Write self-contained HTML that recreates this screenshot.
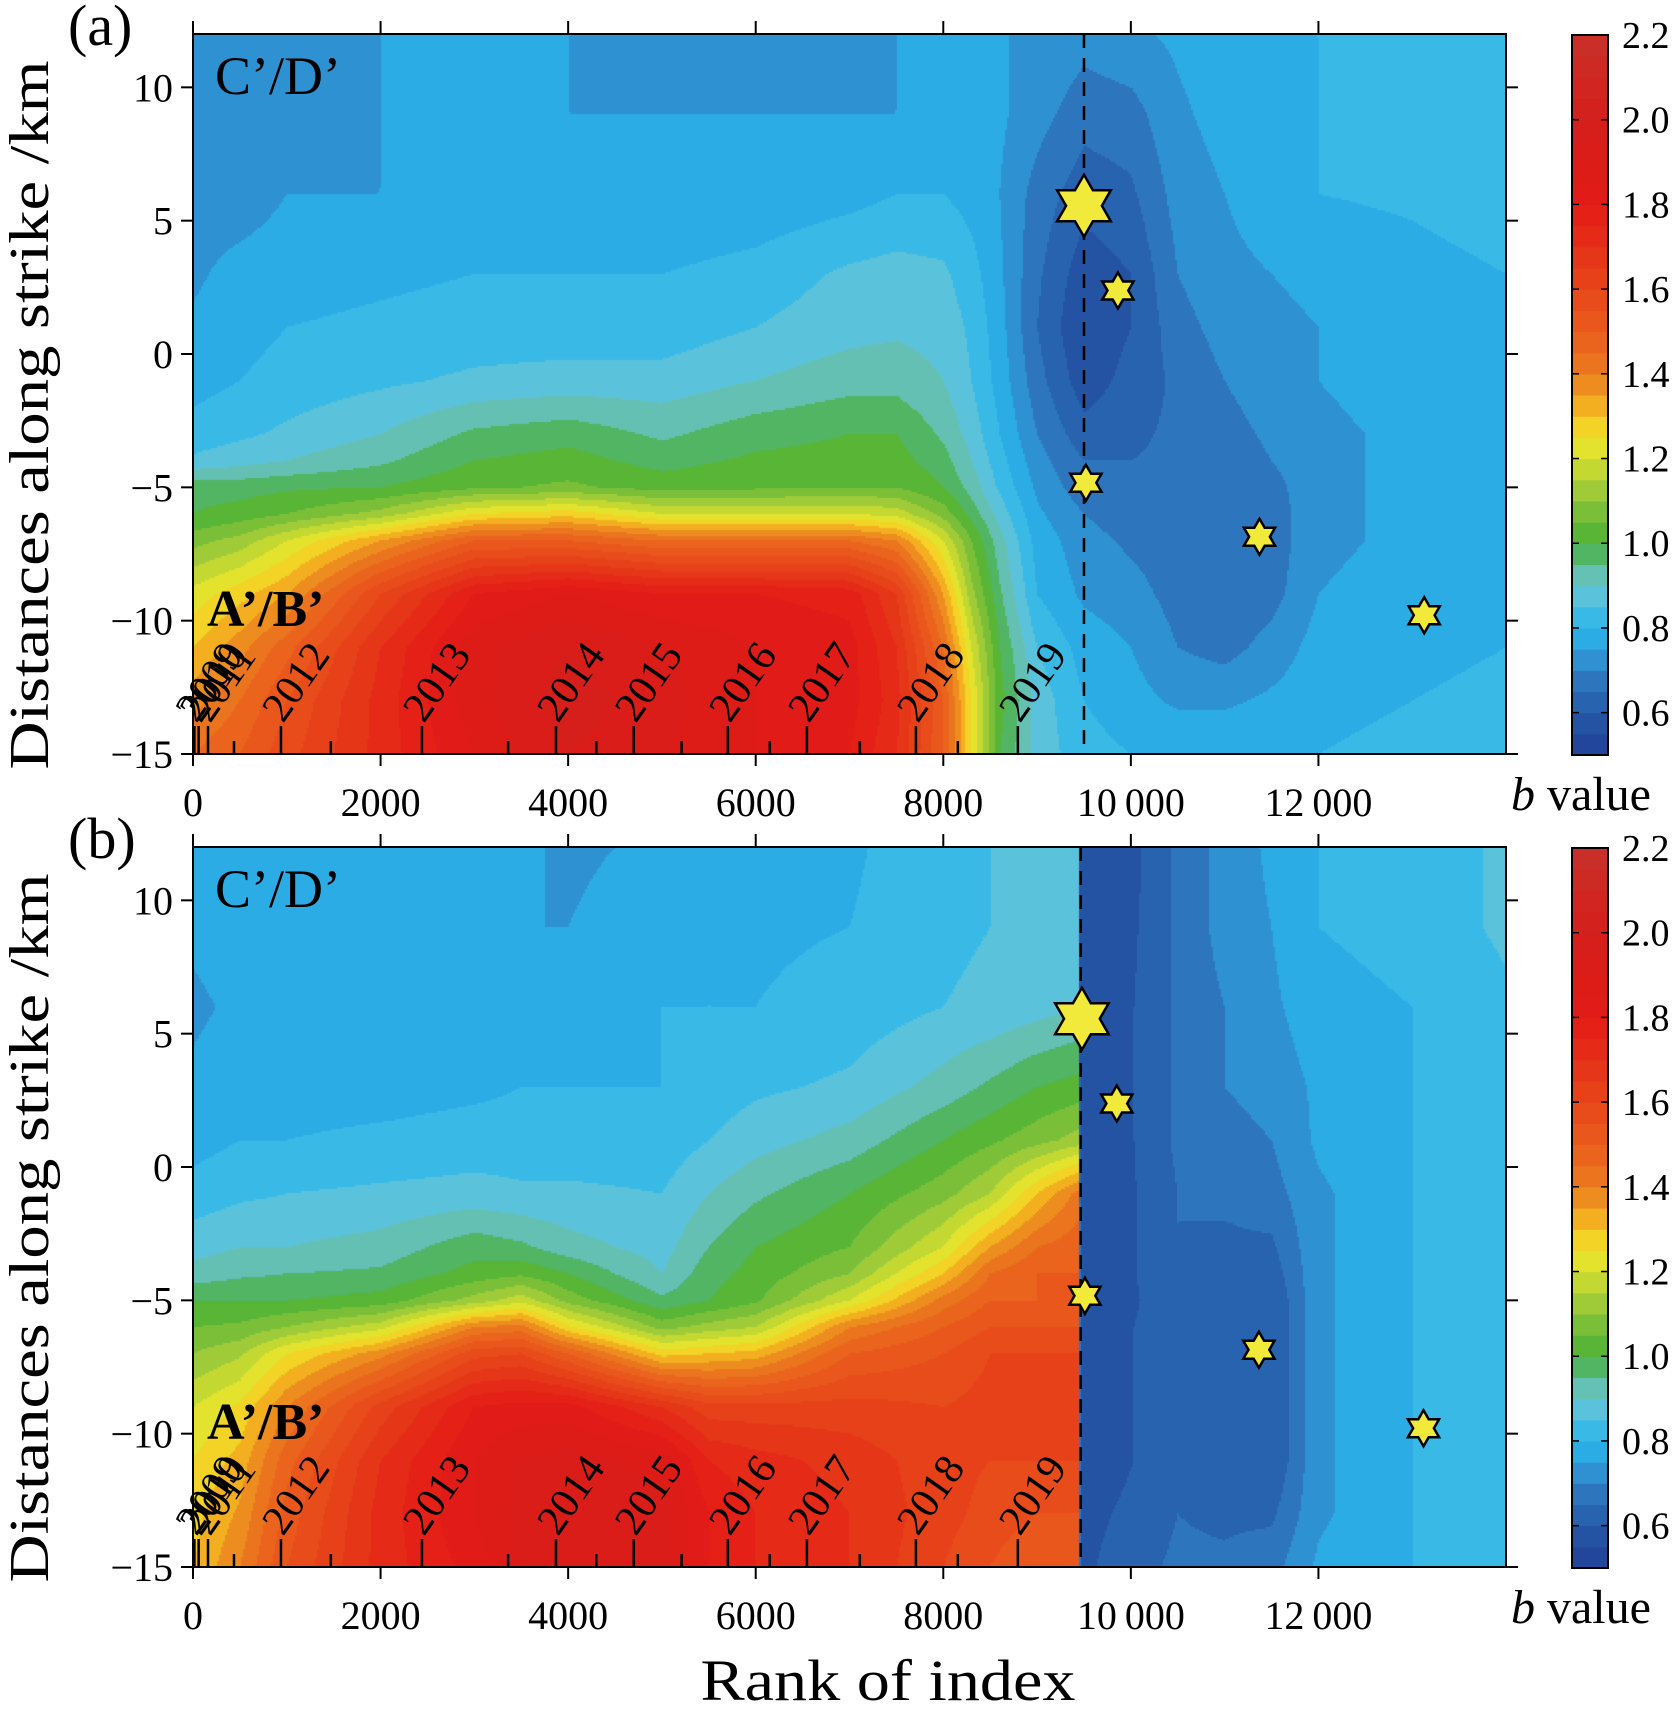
<!DOCTYPE html>
<html><head><meta charset="utf-8">
<style>
html,body{margin:0;padding:0;background:#fff;}
#wrap{position:relative;width:1679px;height:1709px;overflow:hidden;font-family:"Liberation Serif",serif;}
canvas{position:absolute;}
svg{position:absolute;left:0;top:0;}
</style></head>
<body>
<div id="wrap">
<canvas id="ca"></canvas>
<canvas id="cb"></canvas>
<svg id="svg" width="1679" height="1709"></svg>
</div>
<script>
// ---------- data ----------
const rowsKm = [12,9,6,3,1,-1,-3,-4,-5,-6,-7,-9,-11,-13,-15];
const colsA = [0,500,1000,2000,3000,4000,5000,6000,7000,7500,8000,8300,8600,9000,9500,10000,10500,11000,11500,12000,13000,14000];
const gridA = [
[0.72,0.72,0.74,0.75,0.75,0.75,0.74,0.72,0.74,0.75,0.75,0.75,0.75,0.75,0.72,0.74,0.76,0.78,0.8,0.8,0.84,0.84],
[0.70,0.72,0.74,0.75,0.75,0.75,0.75,0.75,0.75,0.75,0.75,0.76,0.76,0.72,0.67,0.68,0.74,0.77,0.79,0.8,0.82,0.84],
[0.72,0.72,0.75,0.75,0.76,0.76,0.75,0.76,0.78,0.8,0.8,0.78,0.75,0.68,0.62,0.64,0.72,0.75,0.77,0.8,0.81,0.83],
[0.74,0.77,0.78,0.79,0.8,0.8,0.8,0.82,0.86,0.87,0.86,0.82,0.76,0.66,0.57,0.6,0.7,0.74,0.75,0.76,0.78,0.8],
[0.76,0.78,0.8,0.81,0.82,0.82,0.82,0.85,0.88,0.89,0.88,0.84,0.77,0.65,0.55,0.6,0.68,0.72,0.74,0.75,0.77,0.8],
[0.78,0.8,0.82,0.84,0.86,0.87,0.87,0.9,0.93,0.93,0.9,0.85,0.78,0.67,0.57,0.62,0.66,0.7,0.73,0.75,0.77,0.79],
[0.82,0.84,0.86,0.9,0.96,0.98,0.94,0.98,1.0,1.0,0.94,0.88,0.8,0.7,0.62,0.64,0.66,0.68,0.71,0.74,0.76,0.78],
[0.86,0.88,0.9,0.94,1.0,1.02,0.98,1.01,1.02,1.02,0.97,0.9,0.82,0.72,0.65,0.65,0.66,0.67,0.7,0.74,0.76,0.78],
[0.98,0.98,0.99,1.0,1.04,1.06,1.03,1.04,1.05,1.05,1.0,0.93,0.84,0.74,0.67,0.66,0.66,0.66,0.68,0.74,0.76,0.78],
[1.0,1.02,1.05,1.12,1.25,1.28,1.2,1.2,1.2,1.18,1.08,0.98,0.88,0.76,0.7,0.67,0.66,0.66,0.67,0.74,0.76,0.78],
[1.08,1.12,1.2,1.35,1.5,1.5,1.45,1.45,1.45,1.4,1.2,1.05,0.92,0.78,0.72,0.69,0.67,0.66,0.67,0.74,0.76,0.78],
[1.22,1.28,1.35,1.6,1.8,1.85,1.8,1.8,1.78,1.65,1.35,1.12,0.96,0.8,0.74,0.72,0.68,0.66,0.68,0.75,0.77,0.78],
[1.3,1.38,1.48,1.7,1.88,1.95,1.9,1.85,1.82,1.7,1.45,1.2,1.0,0.85,0.78,0.75,0.7,0.68,0.72,0.77,0.78,0.8],
[1.38,1.45,1.55,1.72,1.88,1.98,1.92,1.85,1.82,1.72,1.5,1.25,1.02,0.88,0.8,0.77,0.74,0.74,0.76,0.78,0.8,0.82],
[1.45,1.5,1.58,1.72,1.85,1.95,1.9,1.85,1.8,1.7,1.5,1.25,1.0,0.88,0.82,0.8,0.8,0.8,0.8,0.8,0.82,0.84]
];
const colsB = [0,500,1000,2000,3000,3500,4000,5000,5500,6000,7000,8000,8500,9000,9440,9460,9800,10500,11000,11500,12000,13000,13500,14000];
const gridB = [
[0.78,0.78,0.8,0.79,0.77,0.76,0.74,0.76,0.78,0.8,0.79,0.84,0.85,0.86,0.86,0.55,0.55,0.66,0.72,0.76,0.8,0.82,0.84,0.86],
[0.76,0.78,0.8,0.78,0.76,0.75,0.75,0.78,0.8,0.79,0.8,0.84,0.85,0.86,0.86,0.55,0.56,0.66,0.72,0.75,0.8,0.82,0.84,0.86],
[0.74,0.76,0.78,0.76,0.75,0.76,0.77,0.8,0.8,0.8,0.82,0.85,0.86,0.88,0.9,0.55,0.57,0.66,0.7,0.74,0.78,0.8,0.82,0.84],
[0.76,0.78,0.78,0.78,0.79,0.8,0.8,0.8,0.82,0.84,0.86,0.92,0.96,1.0,1.02,0.55,0.57,0.66,0.7,0.72,0.76,0.8,0.82,0.84],
[0.78,0.8,0.8,0.81,0.82,0.82,0.82,0.82,0.85,0.88,0.92,1.0,1.04,1.08,1.12,0.55,0.57,0.66,0.68,0.7,0.76,0.8,0.82,0.84],
[0.82,0.84,0.85,0.86,0.87,0.86,0.86,0.85,0.9,0.94,1.0,1.08,1.15,1.3,1.42,0.55,0.57,0.65,0.66,0.68,0.74,0.8,0.82,0.84],
[0.88,0.9,0.9,0.92,0.98,0.96,0.92,0.88,0.95,1.0,1.05,1.2,1.35,1.45,1.48,0.55,0.57,0.65,0.64,0.64,0.74,0.8,0.82,0.84],
[0.92,0.94,0.95,0.96,1.02,1.04,1.0,0.9,0.98,1.02,1.1,1.3,1.45,1.5,1.5,0.55,0.57,0.65,0.63,0.62,0.74,0.8,0.82,0.84],
[1.0,1.0,1.0,1.02,1.12,1.18,1.08,0.96,1.0,1.04,1.2,1.42,1.5,1.5,1.52,0.55,0.57,0.64,0.62,0.6,0.74,0.8,0.82,0.84],
[1.05,1.06,1.1,1.18,1.4,1.42,1.26,1.08,1.12,1.15,1.4,1.5,1.55,1.55,1.55,0.55,0.58,0.64,0.62,0.6,0.74,0.8,0.82,0.84],
[1.1,1.14,1.25,1.38,1.58,1.6,1.5,1.28,1.3,1.32,1.5,1.55,1.6,1.6,1.6,0.56,0.58,0.64,0.62,0.6,0.74,0.8,0.82,0.84],
[1.2,1.26,1.4,1.62,1.8,1.82,1.82,1.7,1.62,1.62,1.62,1.6,1.62,1.62,1.65,0.56,0.58,0.64,0.62,0.6,0.74,0.8,0.82,0.84],
[1.25,1.32,1.48,1.7,1.85,1.9,1.92,1.88,1.75,1.72,1.68,1.62,1.6,1.6,1.6,0.56,0.58,0.64,0.62,0.6,0.74,0.8,0.82,0.84],
[1.28,1.36,1.52,1.72,1.85,1.92,1.95,1.92,1.8,1.75,1.7,1.62,1.58,1.55,1.55,0.57,0.6,0.65,0.64,0.64,0.74,0.8,0.82,0.84],
[1.3,1.4,1.55,1.72,1.82,1.9,1.95,1.92,1.8,1.75,1.7,1.6,1.55,1.5,1.5,0.58,0.62,0.66,0.66,0.68,0.76,0.8,0.82,0.84]
];
const xTicks = [0,2000,4000,6000,8000,10000,12000];
const xTickLabels = ["0","2000","4000","6000","8000","10\u2009000","12\u2009000"];
const yTicks = [10,5,0,-5,-10,-15];
const yTickLabels = ["10","5","0","\u22125","\u221210","\u221215"];
const years = ["2009","2010","2011","2012","2013","2014","2015","2016","2017","2018","2019"];
const yearRanks = [15,60,160,938,2441,3870,4700,5703,6546,7708,8795];
const halfYearRanks = [437,1470,3360,4300,5210,6150,7110,8155];
const starRanks = [9500,9862,9521,11372,13128];
const starKm = [5.56,2.38,-4.83,-6.85,-9.8];
const starSizes = [31,18,18,18,18];
const starRanksB = [9478,9850,9510,11365,13120];
const mainshockRankA = 9500;
const mainshockRankB = 9465;
const cbTicks = [2.2,2.0,1.8,1.6,1.4,1.2,1.0,0.8,0.6];
const cbStops = [0.5,0.6,0.7,0.75,0.8,0.85,0.9,0.95,1.0,1.1,1.2,1.25,1.3,1.4,1.5,1.6,1.8,2.0,2.2];
const cbColors = ["#213f96","#2559a8","#2f7fc4","#2ea2dd","#29b6ec","#48bde0","#6ec6d6","#5dbb92","#46b035","#8dc43a","#d6df30","#efe62c","#f5c020","#ec7c1f","#e95c1c","#e8461a","#e31a16","#d41f1b","#c9302a"];

// ---------- geometry ----------
const X0 = 193, X1 = 1506, XMAX = 14000;
const panels = [{y0:34,y1:754,cols:colsA,grid:gridA,cv:'ca',ms:mainshockRankA,sr:starRanks,lab:'(a)'},
                {y0:847,y1:1567,cols:colsB,grid:gridB,cv:'cb',ms:mainshockRankB,sr:starRanksB,lab:'(b)'}];
function xs(r){return X0 + r/XMAX*(X1-X0);}
function ys(p,km){return p.y0 + (12-km)/27*(p.y1-p.y0);}

function hex2rgb(h){return [parseInt(h.substr(1,2),16),parseInt(h.substr(3,2),16),parseInt(h.substr(5,2),16)];}
const cbRGB = cbColors.map(hex2rgb);
function cmap(v){
  v = Math.max(0.5, Math.min(2.199, v));
  v = Math.floor(v/0.05 + 1e-4)*0.05 + 0.025;
  for (let i=0;i<cbStops.length-1;i++){
    if (v<=cbStops[i+1]){
      const t=(v-cbStops[i])/(cbStops[i+1]-cbStops[i]);
      const a=cbRGB[i], b=cbRGB[i+1];
      return [a[0]+(b[0]-a[0])*t, a[1]+(b[1]-a[1])*t, a[2]+(b[2]-a[2])*t];
    }
  }
  return cbRGB[cbRGB.length-1];
}
function idx(arr, v, desc){
  for (let i=0;i<arr.length-1;i++){
    const a=arr[i], b=arr[i+1];
    if (desc ? (v<=a && v>=b) : (v>=a && v<=b)) return [i,(v-a)/(b-a)];
  }
  return desc ? (v>arr[0]?[0,0]:[arr.length-2,1]) : (v<arr[0]?[0,0]:[arr.length-2,1]);
}
function sample(p, r, km){
  const [i,tx]=idx(p.cols,r,false), [j,ty]=idx(rowsKm,km,true);
  const g=p.grid;
  const a=g[j][i]*(1-tx)+g[j][i+1]*tx, b=g[j+1][i]*(1-tx)+g[j+1][i+1]*tx;
  return a*(1-ty)+b*ty;
}
panels.forEach(p=>{
  const c=document.getElementById(p.cv);
  const W=X1-X0, H=p.y1-p.y0;
  c.width=W; c.height=H; c.style.left=X0+'px'; c.style.top=p.y0+'px';
  const ctx=c.getContext('2d');
  const img=ctx.createImageData(W,H);
  const S=2;
  for (let py=0;py<H;py+=S){
    const km=12-(py+S/2)/H*27;
    for (let px=0;px<W;px+=S){
      const r=(px+S/2)/W*XMAX;
      const col=cmap(sample(p,r,km));
      for (let dy=0;dy<S&&py+dy<H;dy++) for (let dx=0;dx<S&&px+dx<W;dx++){
        const k=((py+dy)*W+px+dx)*4;
        img.data[k]=col[0];img.data[k+1]=col[1];img.data[k+2]=col[2];img.data[k+3]=255;
      }
    }
  }
  ctx.putImageData(img,0,0);
});

// ---------- svg overlay ----------
const NS="http://www.w3.org/2000/svg";
const svg=document.getElementById('svg');
function mk(tag, attrs, parent){
  const e=document.createElementNS(NS,tag);
  for (const k in attrs) e.setAttribute(k, attrs[k]);
  (parent||svg).appendChild(e); return e;
}
function txt(s, attrs, parent){const e=mk('text',attrs,parent); e.textContent=s; return e;}
function starPts(cx,cy,R){
  const r=R*0.577; let pts=[];
  for(let k=0;k<12;k++){const a=-Math.PI/2+k*Math.PI/6; const rr=k%2?r:R; pts.push((cx+rr*Math.cos(a)).toFixed(1)+','+(cy+rr*Math.sin(a)).toFixed(1));}
  return pts.join(' ');
}
const FONT='"Liberation Serif", serif';
const CBX0=1572, CBX1=1608;

panels.forEach((p,pi)=>{
  const g=mk('g',{});
  
  
  yearRanks.forEach((r,i)=>{
    const l=mk('line',{x1:xs(r),x2:xs(r),y1:p.y1,y2:p.y1-28,stroke:'#000','stroke-width':2.5},g);
    
    
    const x=xs(r)+2, y=p.y1-30;
    const t=txt(years[i],{x:x,y:y,'font-family':FONT,'font-size':42,fill:'#000',transform:`rotate(-55 ${x} ${y})`},g);
    
    
  });
  halfYearRanks.forEach(r=>{
    const l=mk('line',{x1:xs(r),x2:xs(r),y1:p.y1,y2:p.y1-13,stroke:'#000','stroke-width':2.5},g);
    
    
  });
  const dl=mk('line',{x1:xs(p.ms),x2:xs(p.ms),y1:p.y0,y2:p.y1,stroke:'#000','stroke-width':2.5,'stroke-dasharray':'14 10'},g);
  
  
  p.sr.forEach((r,i)=>{
    const s=mk('polygon',{points:starPts(xs(r),ys(p,starKm[i]),starSizes[i]),fill:'#f2ea3a',stroke:'#000','stroke-width':2.5,'stroke-linejoin':'miter'},g);
    
    
  });
  const fr=mk('rect',{x:X0,y:p.y0,width:X1-X0,height:p.y1-p.y0,fill:'none',stroke:'#000','stroke-width':2},g);
  
  
  xTicks.forEach((v,i)=>{
    const x=xs(v);
    const a=mk('line',{x1:x,x2:x,y1:p.y1,y2:p.y1+12,stroke:'#000','stroke-width':2},g);
     
    const b=mk('line',{x1:x,x2:x,y1:p.y0,y2:p.y0-13,stroke:'#000','stroke-width':2},g);
     
    const t=txt(xTickLabels[i],{x:x,y:p.y1+62,'text-anchor':'middle','font-family':FONT,'font-size':40,fill:'#000'},g);
     
  });
  yTicks.forEach((v,i)=>{
    const y=ys(p,v);
    const a=mk('line',{x1:X0-12,x2:X0,y1:y,y2:y,stroke:'#000','stroke-width':2},g);
     
    const b=mk('line',{x1:X1,x2:X1+12,y1:y,y2:y,stroke:'#000','stroke-width':2},g);
     
    const t=txt(yTickLabels[i],{x:X0-20,y:y+14,'text-anchor':'end','font-family':FONT,'font-size':40,fill:'#000'},g);
     
  });
  const c1=txt("C\u2019/D\u2019",{x:215,y:p.y0+60,'font-family':FONT,'font-size':54,fill:'#000'},g);
   
  const c2=txt("A\u2019/B\u2019",{x:207,y:p.y0+592,'font-family':FONT,'font-size':52,'font-weight':'bold',fill:'#000'},g);
   
  const pl=txt(p.lab,{x:68,y:p.y0+11,'font-family':FONT,'font-size':58,fill:'#000'},g);
   
  const yt=txt("Distances along strike /km",{x:0,y:0,'text-anchor':'middle','font-family':FONT,'font-size':56,fill:'#000',textLength:709,lengthAdjust:'spacingAndGlyphs',transform:`translate(48 ${p.y0+381}) rotate(-90)`},g);
   
  const cbg=mk('g',{},g);
  
  
  const cy=v=>p.y0+1+(2.2-v)/1.7*(p.y1-p.y0);
  for (let k=0;k<34;k++){
    const lo=0.5+k*0.05, hi=lo+0.05, col=cmap(lo+0.01);
    const r=mk('rect',{x:CBX0,y:cy(hi),width:CBX1-CBX0,height:cy(lo)-cy(hi)+0.6,fill:`rgb(${col.map(Math.round).join(',')})`},cbg);
     
  }
  mk('rect',{x:CBX0,y:cy(2.2),width:CBX1-CBX0,height:cy(0.5)-cy(2.2),fill:'none',stroke:'#000','stroke-width':2},cbg);
  cbTicks.forEach(v=>{
    const y=cy(v);
    mk('line',{x1:CBX0,x2:CBX0+7,y1:y,y2:y,stroke:'#000','stroke-width':1.5},cbg);
    mk('line',{x1:CBX1-7,x2:CBX1,y1:y,y2:y,stroke:'#000','stroke-width':1.5},cbg);
    const t=txt(v.toFixed(1),{x:1622,y:y+13,'font-family':FONT,'font-size':38,fill:'#000'},cbg);
     
  });
  const bv=mk('text',{x:1511,y:p.y1+56,'font-family':FONT,'font-size':48,fill:'#000'},g);
   
  const bi=mk('tspan',{'font-style':'italic'},bv); bi.textContent='b';
  const bt=mk('tspan',{},bv); bt.textContent=' value';
});
const xt=txt("Rank of index",{x:888,y:1700,'text-anchor':'middle','font-family':FONT,'font-size':58,fill:'#000',textLength:375,lengthAdjust:'spacingAndGlyphs'});


</script>
</body></html>
